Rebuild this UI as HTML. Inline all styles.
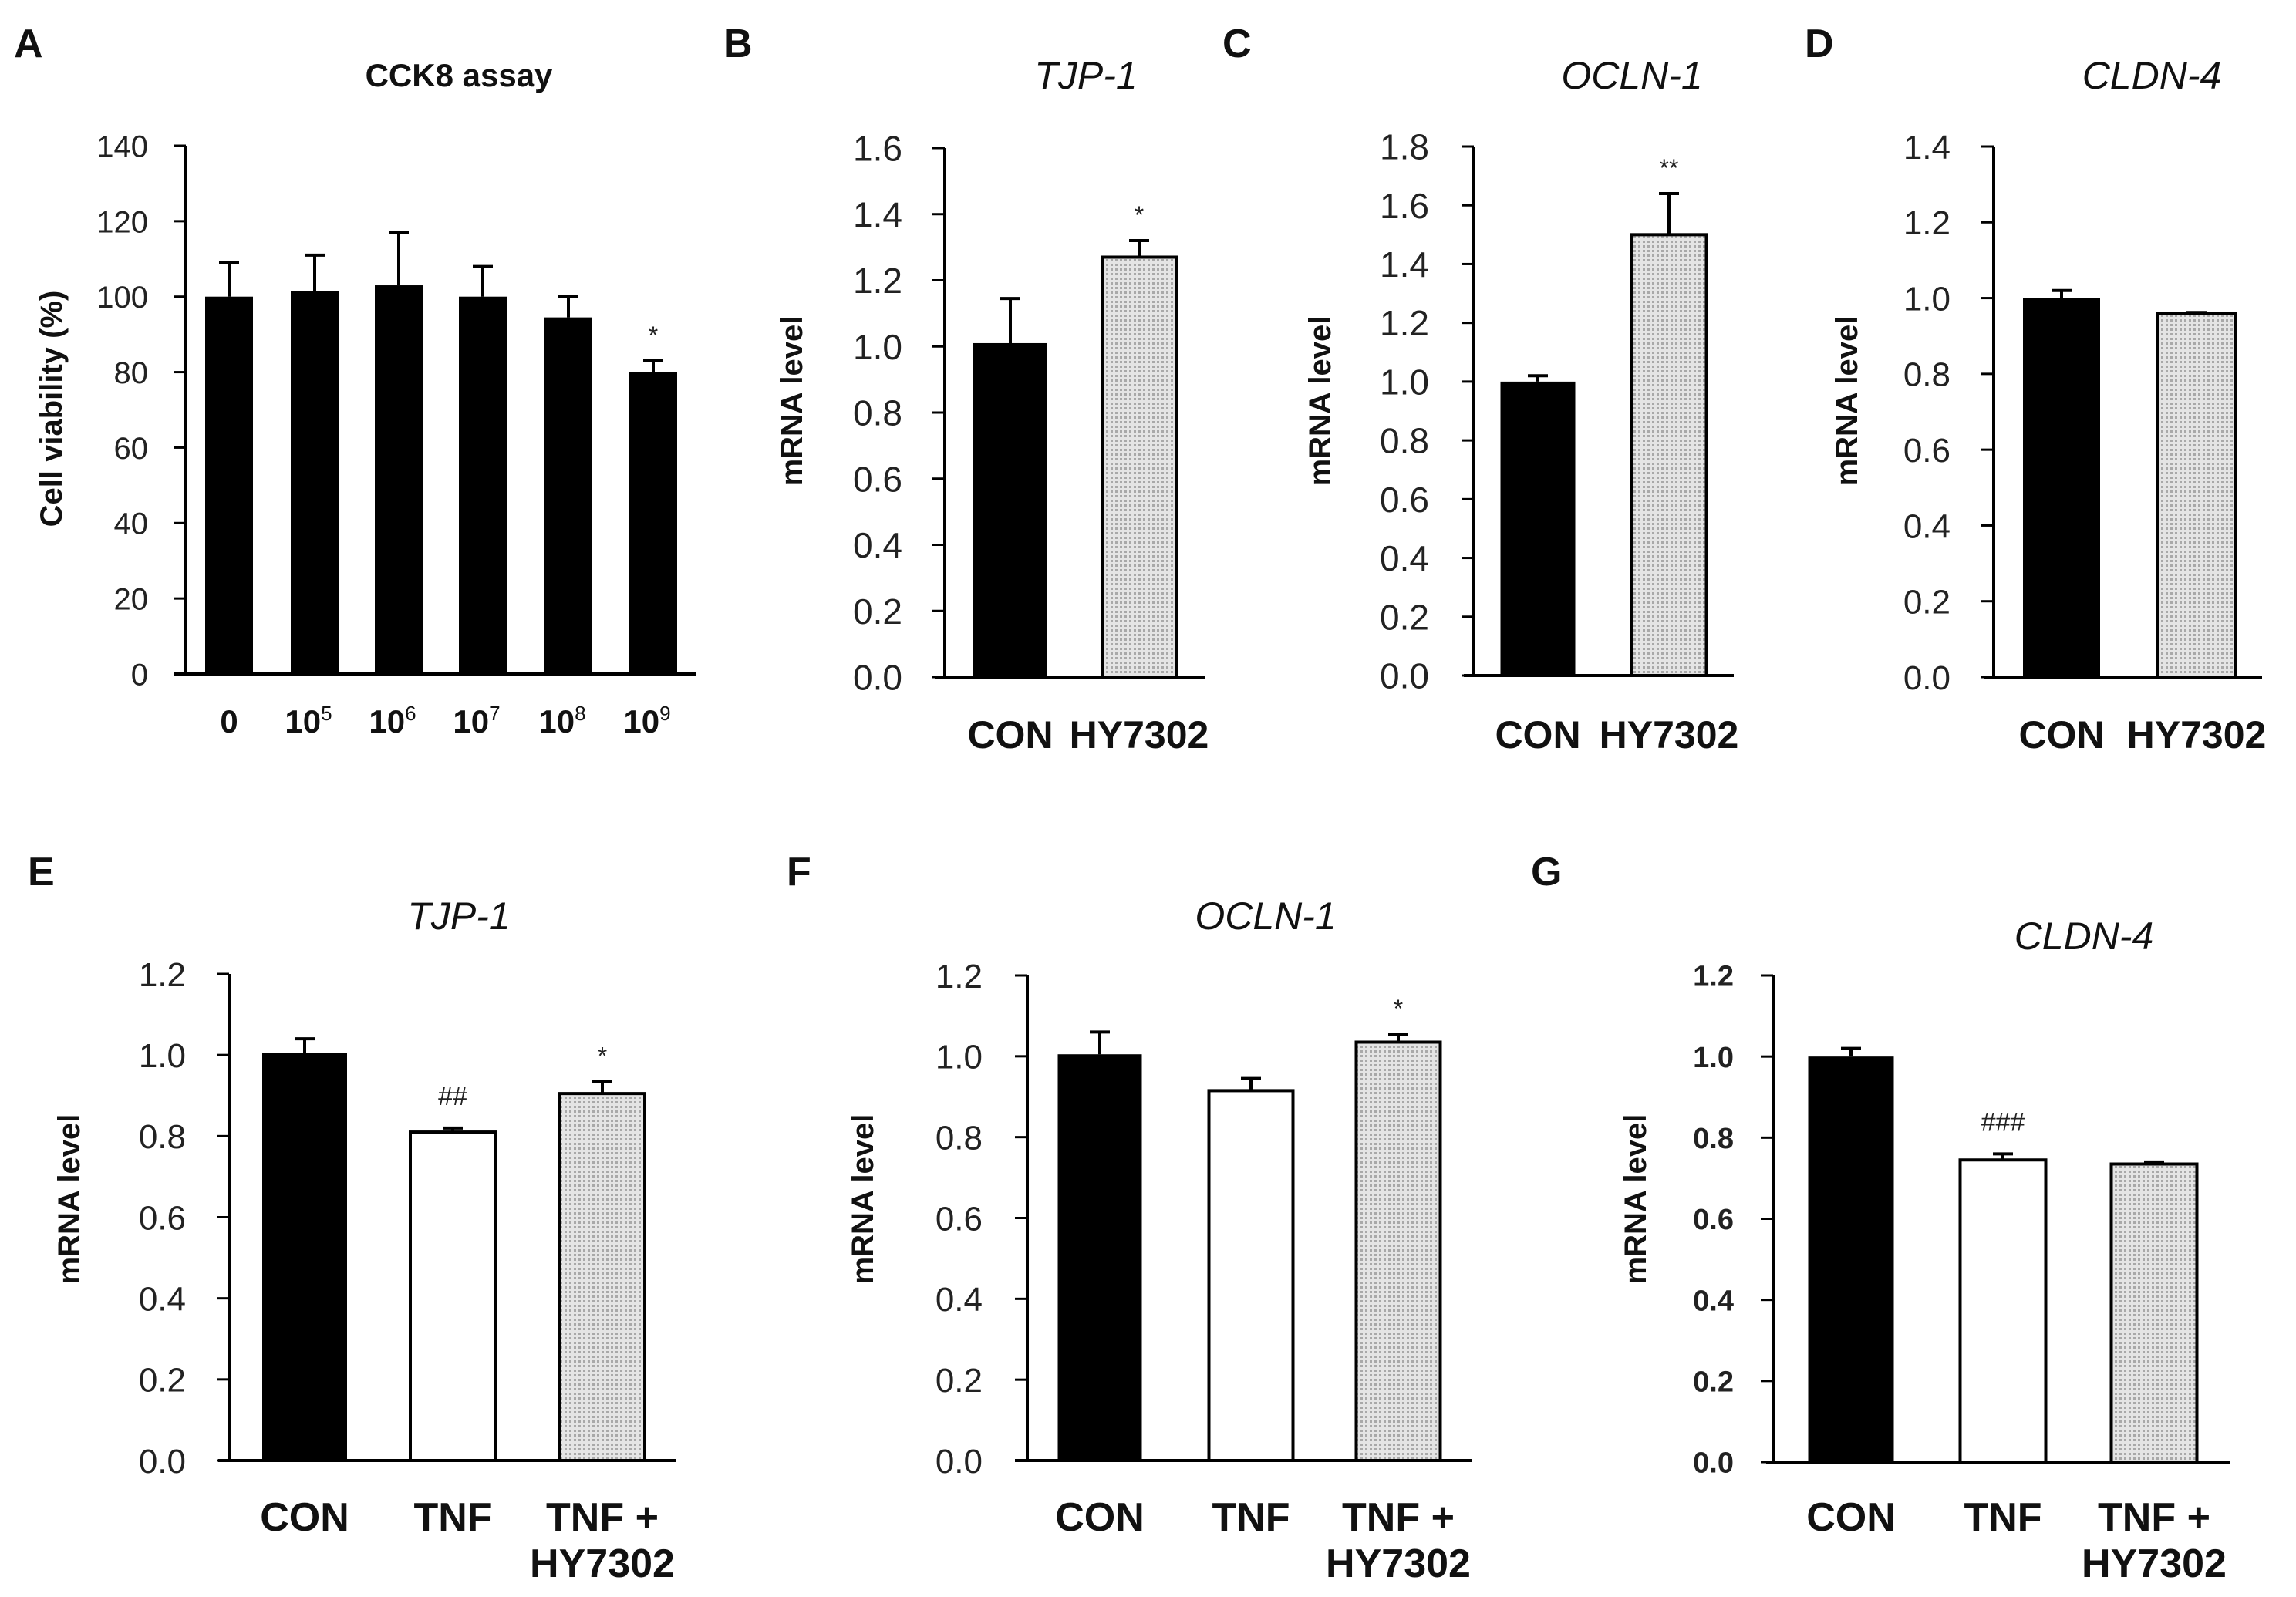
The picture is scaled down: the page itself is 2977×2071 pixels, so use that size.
<!DOCTYPE html>
<html>
<head>
<meta charset="utf-8">
<style>
html,body{margin:0;padding:0;background:#fff;}
svg{display:block;}
text{font-family:"Liberation Sans",Arial,sans-serif;}
</style>
</head>
<body>
<svg id="fig" width="2977" height="2071" viewBox="0 0 2977 2071" xmlns="http://www.w3.org/2000/svg">
<defs>
<pattern id="dots" width="6" height="6" patternUnits="userSpaceOnUse">
<rect width="6" height="6" fill="#e4e4e4"/>
<rect x="0" y="0" width="3" height="3" fill="#a8a8a8"/>
</pattern>
</defs>
</svg>
<script>
// Panel A data
const catsA = ["0","10|5","10|6","10|7","10|8","10|9"];
const valsA = [100, 101.5, 103, 100, 94.5, 80];
const errsA = [109, 111, 117, 108, 100, 83];
const ticksA = [0,20,40,60,80,100,120,140];
const sigA = ["","","","","","*"];
// Panel B
const catsB = ["CON","HY7302"];
const valsB = [1.01, 1.27];
const errsB = [1.145, 1.32];
const ticksB = [0,0.2,0.4,0.6,0.8,1.0,1.2,1.4,1.6];
const sigB = ["","*"];
// Panel C
const catsC = ["CON","HY7302"];
const valsC = [1.0, 1.5];
const errsC = [1.02, 1.64];
const ticksC = [0,0.2,0.4,0.6,0.8,1.0,1.2,1.4,1.6,1.8];
const sigC = ["","**"];
// Panel D
const catsD = ["CON","HY7302"];
const valsD = [1.0, 0.96];
const errsD = [1.02, 0.962];
const ticksD = [0,0.2,0.4,0.6,0.8,1.0,1.2,1.4];
const sigD = ["",""];
// Panel E
const catsE = ["CON","TNF","TNF +|HY7302"];
const valsE = [1.005, 0.81, 0.905];
const errsE = [1.04, 0.82, 0.935];
const ticksE = [0,0.2,0.4,0.6,0.8,1.0,1.2];
const sigE = ["","##","*"];
// Panel F
const catsF = ["CON","TNF","TNF +|HY7302"];
const valsF = [1.005, 0.915, 1.035];
const errsF = [1.06, 0.945, 1.055];
const ticksF = [0,0.2,0.4,0.6,0.8,1.0,1.2];
const sigF = ["","","*"];
// Panel G
const catsG = ["CON","TNF","TNF +|HY7302"];
const valsG = [1.0, 0.745, 0.735];
const errsG = [1.02, 0.76, 0.74];
const ticksG = [0,0.2,0.4,0.6,0.8,1.0,1.2];
const sigG = ["","###",""];

const NS = "http://www.w3.org/2000/svg";
const svg = document.getElementById("fig");
function mk(tag, attrs, parent, txt){
  const e = document.createElementNS(NS, tag);
  for (const k in attrs) e.setAttribute(k, attrs[k]);
  if (txt !== undefined) e.textContent = txt;
  (parent||svg).appendChild(e);
  return e;
}

function panel(cfg){
  const g = mk("g", {});
  
  
  const ymax = cfg.ticks[cfg.ticks.length-1];
  const ys = v => cfg.y0 - (v/ymax)*(cfg.y0 - cfg.yTop);
  const L = mk("text", {x:cfg.letterX, y:cfg.letterY, "font-size":52, "font-weight":"bold", fill:"#111"}, g, cfg.id);
  
  
  const T = mk("text", {x:cfg.titleX, y:cfg.titleY, "font-size":cfg.titleSize||50, "font-style":cfg.titleItalic?"italic":"normal", "font-weight":cfg.titleBold?"bold":"normal", "text-anchor":"middle", fill:"#111"}, g, cfg.title);
  
  
  const yt = mk("text", {x:0, y:0, "font-size":40, "font-weight":"bold", "text-anchor":"middle", fill:"#111", transform:"translate("+cfg.ytX+","+cfg.ytY+") rotate(-90)"}, g, cfg.ytitle);
  
  
  const n = cfg.vals.length;
  for (let i=0;i<n;i++){
    const cx = cfg.centers[i];
    const v = cfg.vals[i];
    const fill = cfg.fills[i];
    const top = ys(v);
    const r = mk("rect", {x:cx-cfg.bw/2, y:top, width:cfg.bw, height:cfg.y0-top, fill: fill==="black"?"#000":(fill==="white"?"#fff":"url(#dots)"), stroke:"#000", "stroke-width":fill==="black"?0:4}, g);
    
    
    const et = ys(cfg.errs[i]);
    if (cfg.errs[i] > v){
      const eb = mk("path", {d:"M"+cx+" "+top+" V"+et+" M"+(cx-13)+" "+et+" H"+(cx+13), stroke:"#000", "stroke-width":4, fill:"none"}, g);
      
      
    }
    if (cfg.sig[i]){
      const isHash = cfg.sig[i].indexOf("#")>=0;
      const s = mk("text", {x:cx, y:et - (isHash?30:22), "font-size":isHash?34:32, "text-anchor":"middle", fill:"#222"}, g, cfg.sig[i]);
      
      
    }
    const parts = cfg.cats[i].split("|");
    if (cfg.sup){
      const xl = mk("text", {x:cx-(parts.length>1?8:0), y:cfg.xlY, "font-size":cfg.xlSize, "font-weight":"bold", "text-anchor":"middle", fill:"#111"}, g);
      
      
      mk("tspan", {}, xl, parts[0]);
      if (parts.length>1) mk("tspan", {dy:-16, "font-size":cfg.xlSize*0.62, "font-weight":"normal"}, xl, parts[1]);
    } else {
      parts.forEach((p,j)=>{
        const xl = mk("text", {x:cx, y:cfg.xlY + j*60, "font-size":cfg.xlSize, "font-weight":"bold", "text-anchor":"middle", fill:"#111"}, g, p);
        
        
      });
    }
  }
  const ya = mk("line", {x1:cfg.ax, y1:cfg.yTop, x2:cfg.ax, y2:cfg.y0, stroke:"#000", "stroke-width":4}, g);
  
  
  const xa = mk("line", {x1:cfg.xStart, y1:cfg.y0, x2:cfg.xEnd, y2:cfg.y0, stroke:"#000", "stroke-width":4}, g);
  
  
  cfg.ticks.forEach(t=>{
    const y = ys(t);
    const tk = mk("line", {x1:cfg.ax-16, y1:y, x2:cfg.ax, y2:y, stroke:"#000", "stroke-width":3}, g);
    
    
    const lbl = cfg.dec ? t.toFixed(1) : String(t);
    const tl = mk("text", {x:cfg.tlX, y:y+cfg.tlSize*0.36, "font-size":cfg.tlSize, "font-weight":cfg.tlBold?"bold":"normal", "text-anchor":"end", fill:"#222"}, g, lbl);
    
    
  });
}

panel({id:"A", title:"CCK8 assay", titleItalic:false, titleBold:true, titleX:595, titleY:112, titleSize:42, letterX:18, letterY:74,
  ytitle:"Cell viability (%)", ytX:80, ytY:530, ax:241, y0:874, yTop:189, xStart:226, xEnd:902,
  centers:[297,408,517,626,737,847], bw:62, vals:valsA, errs:errsA, ticks:ticksA, sig:sigA, cats:catsA,
  fills:["black","black","black","black","black","black"], dec:false, tlX:192, tlSize:40, xlY:950, xlSize:42, sup:true});

panel({id:"B", title:"TJP-1", titleItalic:true, titleX:1408, titleY:115, letterX:938, letterY:74,
  ytitle:"mRNA level", ytX:1040, ytY:520, ax:1225, y0:878, yTop:192, xStart:1212, xEnd:1563,
  centers:[1310,1477], bw:96, vals:valsB, errs:errsB, ticks:ticksB, sig:sigB, cats:catsB,
  fills:["black","dots"], dec:true, tlX:1170, tlSize:46, xlY:970, xlSize:50});

panel({id:"C", title:"OCLN-1", titleItalic:true, titleX:2116, titleY:115, letterX:1585, letterY:74,
  ytitle:"mRNA level", ytX:1725, ytY:520, ax:1911, y0:876, yTop:190, xStart:1898, xEnd:2248,
  centers:[1994,2164], bw:97, vals:valsC, errs:errsC, ticks:ticksC, sig:sigC, cats:catsC,
  fills:["black","dots"], dec:true, tlX:1853, tlSize:46, xlY:970, xlSize:50});

panel({id:"D", title:"CLDN-4", titleItalic:true, titleX:2790, titleY:115, letterX:2340, letterY:74,
  ytitle:"mRNA level", ytX:2408, ytY:520, ax:2585, y0:878, yTop:190, xStart:2572, xEnd:2933,
  centers:[2673,2848], bw:100, vals:valsD, errs:errsD, ticks:ticksD, sig:sigD, cats:catsD,
  fills:["black","dots"], dec:true, tlX:2529, tlSize:44, xlY:970, xlSize:50});

panel({id:"E", title:"TJP-1", titleItalic:true, titleX:595, titleY:1205, letterX:36, letterY:1148,
  ytitle:"mRNA level", ytX:103, ytY:1555, ax:297, y0:1894, yTop:1263, xStart:283, xEnd:877,
  centers:[395,587,781], bw:110, vals:valsE, errs:errsE, ticks:ticksE, sig:sigE, cats:catsE,
  fills:["black","white","dots"], dec:true, tlX:241, tlSize:44, xlY:1985, xlSize:52});

panel({id:"F", title:"OCLN-1", titleItalic:true, titleX:1641, titleY:1205, letterX:1020, letterY:1148,
  ytitle:"mRNA level", ytX:1132, ytY:1555, ax:1332, y0:1894, yTop:1265, xStart:1316, xEnd:1909,
  centers:[1426,1622,1813], bw:109, vals:valsF, errs:errsF, ticks:ticksF, sig:sigF, cats:catsF,
  fills:["black","white","dots"], dec:true, tlX:1274, tlSize:44, xlY:1985, xlSize:52});

panel({id:"G", title:"CLDN-4", titleItalic:true, titleX:2702, titleY:1231, letterX:1985, letterY:1148,
  ytitle:"mRNA level", ytX:2134, ytY:1555, ax:2299, y0:1896, yTop:1265, xStart:2290, xEnd:2892,
  centers:[2400,2597,2793], bw:111, vals:valsG, errs:errsG, ticks:ticksG, sig:sigG, cats:catsG,
  fills:["black","white","dots"], dec:true, tlX:2248, tlSize:38, tlBold:true, xlY:1985, xlSize:52});
</script>
</body>
</html>
